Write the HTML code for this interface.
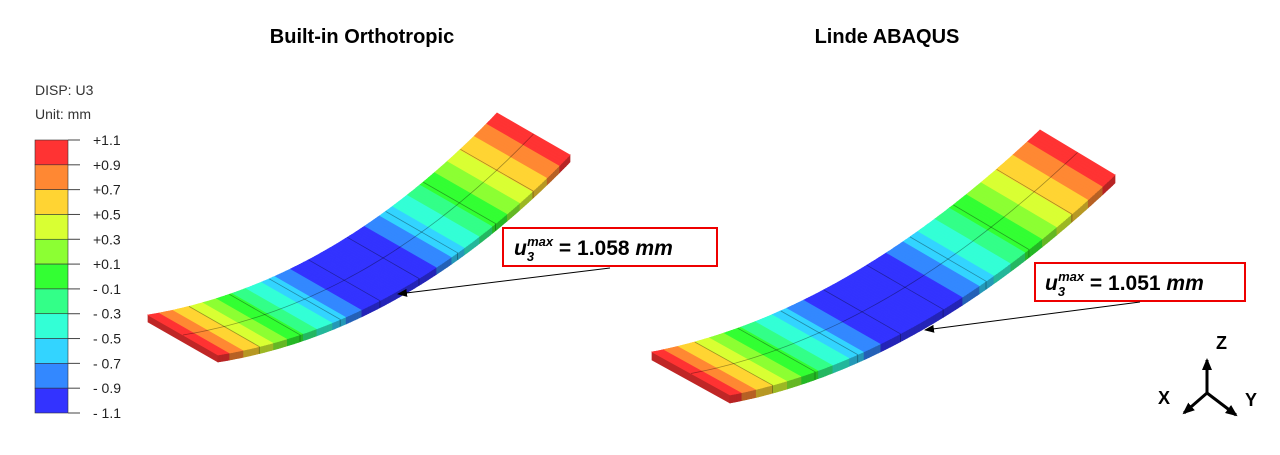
<!DOCTYPE html>
<html><head><meta charset="utf-8"><style>
html,body{margin:0;padding:0;background:#fff;width:1280px;height:455px;overflow:hidden}
svg{display:block}
text{font-family:"Liberation Sans",sans-serif}
</style></head><body>
<svg id="fig" width="1280" height="455" viewBox="0 0 1280 455">
<defs><marker id="ah" markerWidth="10" markerHeight="8" refX="9" refY="4" orient="auto" markerUnits="userSpaceOnUse"><path d="M0,0 L10,4 L0,8 Z" fill="#000"/></marker>
<marker id="ah2" markerWidth="12" markerHeight="10" refX="10" refY="5" orient="auto" markerUnits="userSpaceOnUse"><path d="M0,0 L12,5 L0,10 Z" fill="#000"/></marker></defs>
<text x="362" y="43" text-anchor="middle" font-weight="bold" font-size="20">Built-in Orthotropic</text>
<text x="887" y="43" text-anchor="middle" font-weight="bold" font-size="20">Linde ABAQUS</text>
<text x="35" y="95" font-size="14" fill="#333">DISP: U3</text>
<text x="35" y="119" font-size="14" fill="#333">Unit: mm</text>
<g id="legend"></g>
<g id="plates"></g>
<g>
<rect x="503" y="228" width="214" height="38" fill="#fff" stroke="#e00" stroke-width="2"/>
<text x="514" y="255" font-family="Liberation Serif,serif" font-weight="bold" font-style="italic" font-size="21">u<tspan font-size="13" dy="6">3</tspan><tspan font-size="13" dx="-7" dy="-15">max</tspan><tspan dy="9" font-style="normal"> = 1.058 </tspan>mm</text>
</g>
<line x1="610" y1="268" x2="398" y2="294" stroke="#000" stroke-width="1" marker-end="url(#ah)"/>
<g>
<rect x="1035" y="263" width="210" height="38" fill="#fff" stroke="#e00" stroke-width="2"/>
<text x="1045" y="290" font-family="Liberation Serif,serif" font-weight="bold" font-style="italic" font-size="21">u<tspan font-size="13" dy="6">3</tspan><tspan font-size="13" dx="-7" dy="-15">max</tspan><tspan dy="9" font-style="normal"> = 1.051 </tspan>mm</text>
</g>
<line x1="1140" y1="302" x2="925" y2="330" stroke="#000" stroke-width="1" marker-end="url(#ah)"/>
<g stroke="#000" stroke-width="3">
<line x1="1207" y1="393" x2="1207" y2="360" marker-end="url(#ah2)"/>
<line x1="1207" y1="393" x2="1184" y2="413" marker-end="url(#ah2)"/>
<line x1="1207" y1="393" x2="1236" y2="415" marker-end="url(#ah2)"/>
</g>
<text x="1216" y="349" font-weight="bold" font-size="18">Z</text>
<text x="1158" y="404" font-weight="bold" font-size="18">X</text>
<text x="1245" y="406" font-weight="bold" font-size="18">Y</text>
</svg>
<script>
const legendTicks=["+1.1","+0.9","+0.7","+0.5","+0.3","+0.1","- 0.1","- 0.3","- 0.5","- 0.7","- 0.9","- 1.1"];
const legendColors=["#ff3333","#ff8833","#ffd433","#d9ff33","#8cff33","#33ff33","#33ff88","#33ffd6","#33d4ff","#3388ff","#3333ff"];
const sProfile=[0,0.1,0.2,0.3,0.4,0.5,0.6,0.7,0.8,0.9,1];
const uLeft=[1.058,0.55,0.05,-0.45,-0.93,-1.058,-0.93,-0.45,0.05,0.55,1.058];
const uRight=[1.051,0.55,0.05,-0.45,-0.93,-1.051,-0.93,-0.45,0.05,0.55,1.051];
const NS="http://www.w3.org/2000/svg";
const lg=document.getElementById('legend');
const bx=35,by=140,bw=33,bh=273;
const vy=v=>by+(1.1-v)/2.2*bh;
legendColors.forEach((c,i)=>{
 const r=document.createElementNS(NS,'rect');
 const v0=1.1-0.2*i;
 r.setAttribute('x',bx);r.setAttribute('y',vy(v0));r.setAttribute('width',bw);r.setAttribute('height',vy(v0-0.2)-vy(v0));
 r.setAttribute('fill',c);r.setAttribute('stroke','#333');r.setAttribute('stroke-width','0.6');
 
 
 lg.appendChild(r);
});
legendTicks.forEach((t,i)=>{
 const y=vy(1.1-0.2*i);
 const l=document.createElementNS(NS,'line');
 l.setAttribute('x1',bx+bw);l.setAttribute('x2',bx+bw+12);l.setAttribute('y1',y);l.setAttribute('y2',y);l.setAttribute('stroke','#444');
 
 
 lg.appendChild(l);
 const tx=document.createElementNS(NS,'text');
 tx.setAttribute('x',93);tx.setAttribute('y',y+5);tx.setAttribute('font-size','14');tx.setAttribute('fill','#222');tx.textContent=t;
 
 
 lg.appendChild(tx);
});
function colorOf(u){let i=Math.floor((1.1-u)/0.2);i=Math.max(0,Math.min(10,i));return legendColors[i];}
function interp(arr,s){const k=Math.min(sProfile.length-2,Math.floor(s*10));const t=(s-sProfile[k])/(sProfile[k+1]-sProfile[k]);return arr[k]+(arr[k+1]-arr[k])*t;}
function dark(hex,f){const n=parseInt(hex.slice(1),16);const r=(n>>16)*f|0,g=((n>>8)&255)*f|0,b=(n&255)*f|0;return `rgb(${r},${g},${b})`;}
function plate(name,P0,C,P2,W0,W1,T,uArr){
 const g=document.createElementNS(NS,'g');
 
 
 document.getElementById('plates').appendChild(g);
 const B=s=>[(1-s)*(1-s)*P0[0]+2*(1-s)*s*C[0]+s*s*P2[0],(1-s)*(1-s)*P0[1]+2*(1-s)*s*C[1]+s*s*P2[1]];
 const W=s=>[W0[0]+(W1[0]-W0[0])*s,W0[1]+(W1[1]-W0[1])*s];
 const pt=(s,w)=>{const b=B(s),v=W(s);return [b[0]+v[0]*w,b[1]+v[1]*w];};
 const poly=(pts,fill,nm)=>{const p=document.createElementNS(NS,'polygon');p.setAttribute('points',pts.map(q=>q[0].toFixed(1)+','+q[1].toFixed(1)).join(' '));p.setAttribute('fill',fill);p.setAttribute('stroke',fill);p.setAttribute('stroke-width','0.7');
  
  
  g.appendChild(p);};
 const N=160;
 // end face left
 const a=pt(0,1),b=pt(0,0);
 poly([a,b,[b[0],b[1]+T],[a[0],a[1]+T]],dark(colorOf(uArr[0]),0.75),'plate-end-face');
 for(let i=0;i<N;i++){
  const s0=i/N,s1=(i+1)/N,c=colorOf(interp(uArr,(s0+s1)/2));
  const n0=pt(s0,0),n1=pt(s1,0);
  poly([n0,n1,[n1[0],n1[1]+T],[n0[0],n0[1]+T]],dark(c,0.72),'plate-side-face');
  poly([n0,n1,pt(s1,1),pt(s0,1)],c,'plate-top-strip');
 }
 const path=(pts)=>{const p=document.createElementNS(NS,'polyline');p.setAttribute('points',pts.map(q=>q[0].toFixed(1)+','+q[1].toFixed(1)).join(' '));p.setAttribute('fill','none');p.setAttribute('stroke','rgba(0,0,0,0.35)');p.setAttribute('stroke-width','0.8');
  
  
  g.appendChild(p);};
 const mid=[];for(let i=0;i<=60;i++)mid.push(pt(i/60,0.5));path(mid);
 for(let k=1;k<9;k++){const s=k/9;const n=pt(s,0);path([pt(s,1),n,[n[0],n[1]+T]]);}
}
plate('plate-builtin',[218,355],[405,325],[570,155],[-70,-40],[-73,-42],7,uLeft);
plate('plate-linde',[730,395],[921,359],[1115,175],[-78,-43],[-75,-45],8,uRight);
</script>
</body></html>
